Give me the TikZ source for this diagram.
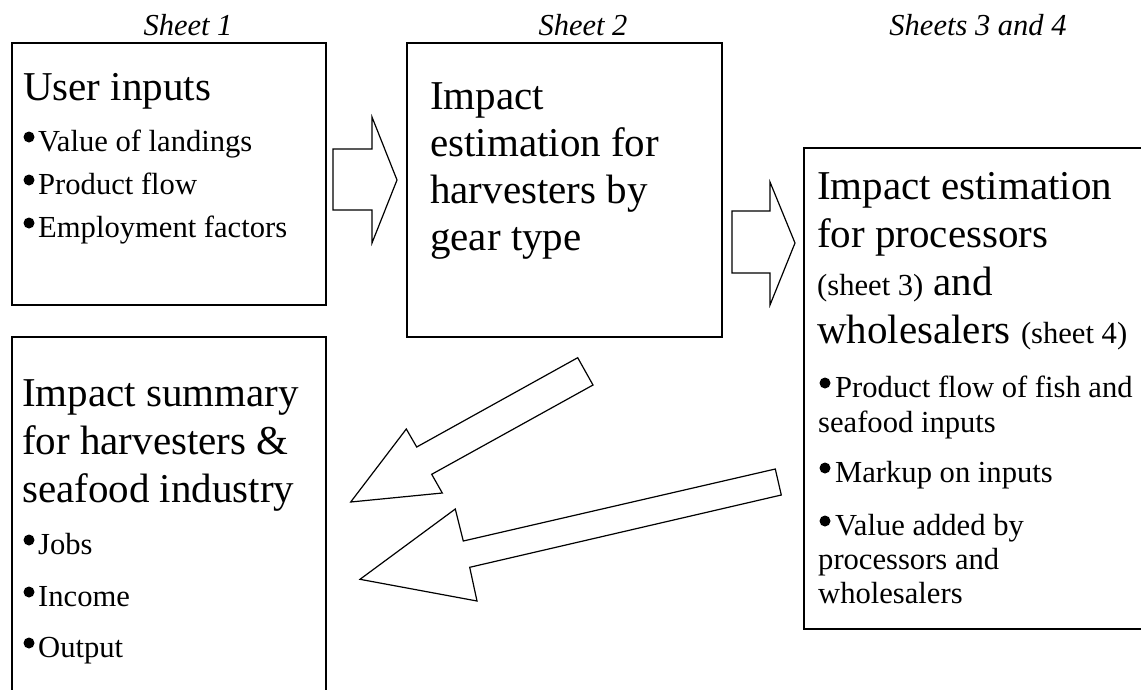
\documentclass[tikz,border=0pt]{standalone}
\usepackage{fontspec}
\setmainfont{Liberation Serif}
\begin{document}
\begin{tikzpicture}[x=1pt,y=-1pt,
  box/.style={draw, line width=1.5pt},
  blockarrow/.style={draw, line width=1.2pt, line join=miter},
  head/.style={anchor=base west, align=left, inner sep=0pt, font=\fontsize{41}{47}\selectfont},
  item/.style={anchor=base west, align=left, inner sep=0pt, font=\fontsize{30.6}{35}\selectfont},
  sheet/.style={anchor=base, inner sep=0pt, font=\itshape\fontsize{30.5}{31}\selectfont},
  bdot/.style={fill=black}]
\useasboundingbox (0,0) rectangle (1141,689);
\clip (0,0) rectangle (1141,689);

% sheet labels
\node[sheet] (s1) at (188,35) {Sheet 1};
\node[sheet] (s2) at (583,35) {Sheet 2};
\node[sheet] (s3) at (978,35) {Sheets 3 and 4};

% boxes
\draw[box] (12,43) rectangle (326,305);
\draw[box] (407,43) rectangle (722,337);
\draw[box] (804,148) rectangle (1160,629);
\draw[box] (12,337) rectangle (326,720);

% block arrows
\draw[blockarrow] (333,149) -- (372,149) -- (372,117) -- (397,180) -- (372,243) -- (372,210) -- (333,210) -- cycle;
\draw[blockarrow] (732,211) -- (770,211) -- (770,182) -- (795,243) -- (770,305) -- (770,273) -- (732,273) -- cycle;
\draw[blockarrow] (577.7,357.7) -- (593,385) -- (431.7,474.3) -- (442.3,493) -- (350.7,502) -- (406.3,429) -- (416.7,447) -- cycle;
\draw[blockarrow] (775.3,469) -- (781.3,495) -- (469.7,567.3) -- (477,601) -- (360,579.3) -- (455.3,509) -- (463.3,541) -- cycle;

% box 1 (single-line nodes: base = baseline)
\node[head] (h1) at (23,100) {User inputs};
\node[item] (i11) at (23,151) {\hspace*{15pt}Value of landings};
\node[item] (i12) at (23,194) {\hspace*{15pt}Product flow};
\node[item] (i13) at (23,237) {\hspace*{15pt}Employment factors};
\fill[bdot] (i11.base west) ++(6,-14) circle[radius=5.5pt];
\fill[bdot] (i12.base west) ++(6,-14) circle[radius=5.5pt];
\fill[bdot] (i13.base west) ++(6,-14) circle[radius=5.5pt];

% box 2 (multi-line nodes: base = last line's baseline)
\node[head, font=\fontsize{41}{46.7}\selectfont] (h2) at (430,250) {Impact\\estimation for\\harvesters by\\gear type};

% box 3
\node[head, font=\fontsize{41}{47.7}\selectfont] (h3) at (817,343) {Impact estimation\\for processors\\{\fontsize{30.6}{30}\selectfont (sheet 3)} and\\wholesalers {\fontsize{30.6}{30}\selectfont (sheet 4)}};
\node[item] (i31) at (818,432) {\hspace*{17pt}Product flow of fish and\\seafood inputs};
\node[item] (i32) at (818,482) {\hspace*{17pt}Markup on inputs};
\node[item, font=\fontsize{30.6}{34}\selectfont] (i33) at (818,603) {\hspace*{17pt}Value added by\\processors and\\wholesalers};
\coordinate (d31) at (825,383);
\coordinate (d33) at (825,521);
\fill[bdot] (d31) circle[radius=5.5pt];
\fill[bdot] (i32.base west) ++(7,-14) circle[radius=5.5pt];
\fill[bdot] (d33) circle[radius=5.5pt];

% box 4
\node[head, font=\fontsize{41}{48}\selectfont] (h4) at (22,502) {Impact summary\\for harvesters \&\\seafood industry};
\node[item] (i41) at (23,554) {\hspace*{15pt}Jobs};
\node[item] (i42) at (23,606) {\hspace*{15pt}Income};
\node[item] (i43) at (23,657) {\hspace*{15pt}Output};
\fill[bdot] (i41.base west) ++(6,-14) circle[radius=5.5pt];
\fill[bdot] (i42.base west) ++(6,-14) circle[radius=5.5pt];
\fill[bdot] (i43.base west) ++(6,-14) circle[radius=5.5pt];
\end{tikzpicture}
\end{document}
